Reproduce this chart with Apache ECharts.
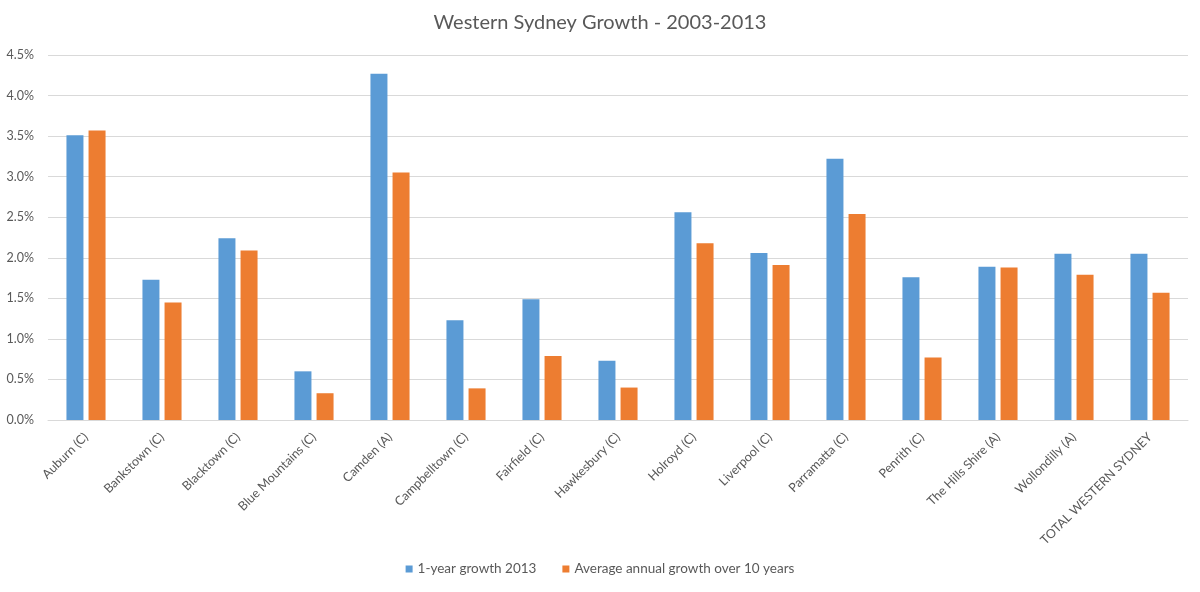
<!DOCTYPE html>
<html>
<head>
<meta charset="utf-8">
<title>Western Sydney Growth - 2003-2013</title>
<script src="https://cdn.jsdelivr.net/npm/echarts@6/dist/echarts.min.js"></script>
<style>
  html, body { margin: 0; padding: 0; background: #fff; }
  #chart { width: 1200px; height: 592px; }
</style>
</head>
<body>
<div id="chart"></div>
<script>
// data (percent)
var councils = ['Auburn (C)', 'Bankstown (C)', 'Blacktown (C)', 'Blue Mountains (C)', 'Camden (A)',
  'Campbelltown (C)', 'Fairfield (C)', 'Hawkesbury (C)', 'Holroyd (C)', 'Liverpool (C)',
  'Parramatta (C)', 'Penrith (C)', 'The Hills Shire (A)', 'Wollondilly (A)', 'TOTAL WESTERN SYDNEY'];
var oneYear = [3.51, 1.73, 2.24, 0.60, 4.27, 1.23, 1.49, 0.73, 2.56, 2.06, 3.22, 1.76, 1.89, 2.05, 2.05];
var tenYearAvg = [3.57, 1.45, 2.09, 0.33, 3.05, 0.39, 0.79, 0.40, 2.18, 1.91, 2.54, 0.77, 1.88, 1.79, 1.57];
var seriesNames = ['1-year growth 2013', 'Average annual growth over 10 years'];

var textColor = '#595959';
var font = 'Lato, "Open Sans", sans-serif';

var chart = echarts.init(document.getElementById('chart'));
chart.setOption({
  animation: false,
  color: ['#5B9BD5', '#ED7D31'],
  textStyle: { fontFamily: font },
  title: {
    text: 'Western Sydney Growth - 2003-2013',
    left: 'center',
    top: 8,
    textStyle: { color: textColor, fontSize: 20, fontWeight: 'normal', fontFamily: font }
  },
  legend: {
    bottom: 11,
    left: 'center',
    icon: 'rect',
    itemWidth: 7,
    itemHeight: 7,
    itemGap: 26,
    textStyle: { color: textColor, fontSize: 13.5, fontFamily: font },
    data: seriesNames
  },
  grid: { left: 48, right: 12, top: 55, bottom: 172, containLabel: false },
  xAxis: {
    type: 'category',
    data: councils,
    axisLine: { lineStyle: { color: '#D9D9D9' } },
    axisTick: { show: false },
    axisLabel: {
      interval: 0,
      rotate: 45,
      color: textColor,
      fontSize: 12.5,
      margin: 15,
      fontFamily: font
    }
  },
  yAxis: {
    type: 'value',
    min: 0,
    max: 4.5,
    interval: 0.5,
    axisLine: { show: false },
    axisTick: { show: false },
    splitLine: { lineStyle: { color: '#D9D9D9' } },
    axisLabel: {
      color: textColor,
      fontSize: 12.5,
      margin: 14,
      fontFamily: font,
      formatter: function (v) { return v.toFixed(1) + '%'; }
    }
  },
  series: [
    { name: seriesNames[0], type: 'bar', data: oneYear, barWidth: 17, barGap: '30%' },
    { name: seriesNames[1], type: 'bar', data: tenYearAvg, barWidth: 17, barGap: '30%' }
  ]
});
</script>
</body>
</html>
